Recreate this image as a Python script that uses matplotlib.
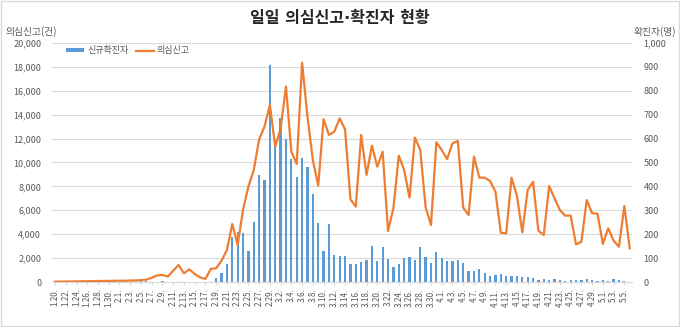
import numpy as np
import pandas as pd
import matplotlib
matplotlib.use("Agg")
import matplotlib.pyplot as plt
from matplotlib.patches import Rectangle
from matplotlib.ticker import FuncFormatter

plt.rcParams["font.family"] = ["Noto Sans CJK KR", "DejaVu Sans"]

# 1.20 ~ 5.6 (daily categories)
dates = pd.date_range("2020-01-20", "2020-05-06", freq="D")
date_labels = [f"{d.month}.{d.day}." for d in dates]

# daily new confirmed cases (right axis)
confirmed = [
    1, 0, 0, 0, 1, 0, 1, 1, 0, 0, 3, 4,                      # 1.20 - 1.31
    1, 3, 0, 1, 3, 4, 1, 0, 3, 0, 1, 0, 0, 0, 0, 2, 1, 1,    # 2.1 - 2.18
    15, 36, 74, 190, 210, 207, 130, 253, 449, 427, 909,      # 2.19 - 2.29
    595, 686, 600, 516, 438, 518, 483, 367, 248, 131, 242,   # 3.1 - 3.11
    114, 110, 107, 76, 74, 84, 93, 152, 87, 147, 98, 64,     # 3.12 - 3.23
    76, 100, 104, 91, 146, 105, 78, 125,                     # 3.24 - 3.31
    101, 89, 86, 94, 81, 47, 47, 53, 39, 27, 30, 32, 25,     # 4.1 - 4.13
    27, 27, 22, 22, 18, 8, 13, 9, 11, 8, 6, 10, 10, 10,      # 4.14 - 4.27
    14, 9, 4,                                                # 4.28 - 4.30
    9, 6, 13, 8, 3, 2,                                       # 5.1 - 5.6
]

# daily suspected-case reports (left axis)
suspected = [
    30, 30, 40, 40, 50, 60, 60, 70, 80, 90, 90, 100,                 # 1.20 - 1.31
    110, 110, 120, 130, 150, 200, 350, 550, 590, 450, 950, 1420,     # 2.1 - 2.12
    730, 1060, 670, 390, 260, 1100, 1150, 1780, 2680, 4850, 3100,    # 2.13 - 2.23
    6030, 7980, 9370, 11940, 13000, 14810,                           # 2.24 - 2.29
    11320, 12860, 16350, 10900, 9870, 18350, 13830, 10210, 8060,     # 3.1 - 3.9
    13620, 12300, 12580, 13690, 12770, 6920, 6300, 12300, 8960,      # 3.10 - 3.18
    11410, 9650, 10900, 4270, 6170, 10570, 9370, 7060, 12080,        # 3.19 - 3.27
    11050, 6250, 4770, 11690,                                        # 3.28 - 3.31
    11050, 10290, 11600, 11800, 6220, 5600, 10490, 8730, 8730,       # 4.1 - 4.9
    8450, 7560, 4130, 4070, 8730, 7200, 4160, 7700, 8390, 4290,      # 4.10 - 4.19
    3930, 8030, 7000, 6020, 5550, 5560, 3150, 3370, 6860, 5750,      # 4.20 - 4.29
    5720,                                                            # 4.30
    3180, 4490, 3460, 2950, 6360, 2820,                              # 5.1 - 5.6
]

BAR_COLOR = "#5B9BD5"
LINE_COLOR = "#ED7D31"
GRID_COLOR = "#D9D9D9"
TEXT_COLOR = "#595959"

x = np.arange(len(dates))

fig = plt.figure(figsize=(6.8, 3.27), dpi=100)
ax_bar = fig.add_axes([0.077, 0.1376, 0.853, 0.731])
ax_line = ax_bar.twinx()

# bars (right axis) drawn underneath, with the grid
ax_bar.bar(x, confirmed, width=0.42, color=BAR_COLOR, label="신규확진자", zorder=2)
ax_bar.set_ylim(0, 1000)
ax_bar.set_yticks(np.arange(0, 1001, 100))
ax_bar.yaxis.tick_right()
ax_bar.grid(axis="y", color=GRID_COLOR, linewidth=0.8)
ax_bar.set_axisbelow(True)

# line (left axis) on top
ax_line.plot(x, suspected, color=LINE_COLOR, linewidth=1.6, label="의심신고", zorder=3)
ax_line.set_ylim(0, 20000)
ax_line.set_yticks(np.arange(0, 20001, 2000))
ax_line.yaxis.tick_left()
ax_line.set_zorder(ax_bar.get_zorder() + 1)
ax_line.patch.set_visible(False)

comma = FuncFormatter(lambda v, p: f"{int(v):,}")
for a in (ax_bar, ax_line):
    a.yaxis.set_major_formatter(comma)
    a.tick_params(axis="y", length=0, labelsize=6.5, colors=TEXT_COLOR, pad=8)
    for side in ("top", "left", "right"):
        a.spines[side].set_visible(False)
    a.spines["bottom"].set_color(GRID_COLOR)
ax_bar.yaxis.set_label_position("right")

ax_bar.set_xlim(-0.5, len(dates) - 0.5)
ax_bar.set_xticks(x[::2])
ax_bar.set_xticklabels(date_labels[::2], rotation=90, fontsize=5.8, color=TEXT_COLOR)
ax_bar.tick_params(axis="x", length=2.5, color=GRID_COLOR, pad=2)

fig.text(0.5, 0.945, "일일 의심신고·확진자 현황", ha="center", va="center",
         fontsize=11.5, fontweight="bold", color="#262626",
         family=["DejaVu Sans", "Noto Sans CJK KR"])
fig.text(0.008, 0.905, "의심신고(건)", ha="left", va="center", fontsize=7, color=TEXT_COLOR)
fig.text(0.994, 0.905, "확진자(명)", ha="right", va="center", fontsize=7, color=TEXT_COLOR)

handles = ax_bar.get_legend_handles_labels()[0] + ax_line.get_legend_handles_labels()[0]
labels = ["신규확진자", "의심신고"]
ax_line.legend(handles, labels, loc="upper left", bbox_to_anchor=(0.01, 1.02), ncol=2,
               frameon=False, fontsize=6.5, handlelength=2.0, handleheight=0.4,
               columnspacing=0.8, handletextpad=0.3, labelcolor=TEXT_COLOR)

fig.patches.append(Rectangle((0.001, 0.002), 0.997, 0.995, transform=fig.transFigure,
                             fill=False, edgecolor=GRID_COLOR, linewidth=1.0))

fig.savefig("out.png", dpi=100)
